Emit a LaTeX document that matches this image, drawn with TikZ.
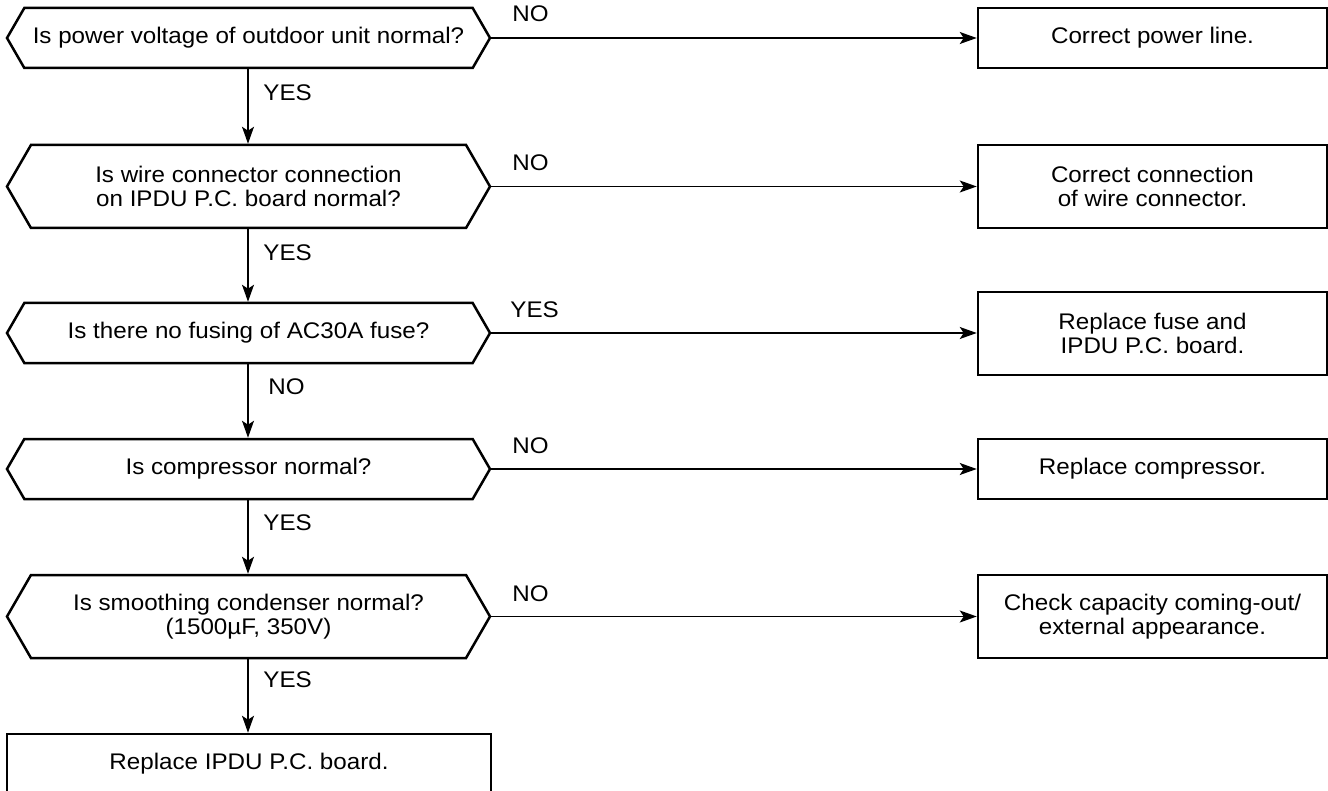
\documentclass[tikz,border=0pt]{standalone}
\usepackage{fontspec}
\setmainfont{Liberation Sans}[FakeStretch=1.07]
\usetikzlibrary{arrows.meta,shapes.symbols}

\begin{document}
\begin{tikzpicture}[x=0.5pt, y=-0.5pt, >={Stealth[length=8.5pt, width=6pt, inset=2pt]},
		font=\fontsize{11.3pt}{11.75pt}\selectfont,
		query/.style={shape=signal, signal to=west and east, signal pointer angle=120,
			draw, line width=1.25pt, minimum width=241.5pt, minimum height=30pt, inner sep=0pt, align=center},
		tall/.style={minimum height=41.5pt},
		remedy/.style={draw, line width=1.25pt, minimum width=174.5pt, minimum height=30pt, inner sep=0pt, align=center},
		link/.style={line width=0.7pt, ->},
		answer/.style={inner sep=0pt, anchor=west}]
	\clip (0,0) rectangle (1328,791);
	\useasboundingbox (0,0) rectangle (1328,791);
	% the checks, top to bottom
	\node[query] (q1) at (248.5,38) {Is power voltage of outdoor unit normal?};
	\node[query, tall] (q2) at (248.5,186.5) {Is wire connector connection\\on IPDU P.C. board normal?};
	\node[query] (q3) at (248.5,333) {Is there no fusing of AC30A fuse?};
	\node[query] (q4) at (248.5,469) {Is compressor normal?};
	\node[query, tall] (q5) at (248.5,616.5) {Is smoothing condenser normal?\\(1500µF, 350V)};
	\node[remedy, minimum width=242pt] (fin) at (249,764) {Replace IPDU P.C. board.};
	% what to do on the right
	\node[remedy] (r1) at (1152.5,38) {Correct power line.};
	\node[remedy, tall] (r2) at (1152.5,186.5) {Correct connection\\of wire connector.};
	\node[remedy, tall] (r3) at (1152.5,333.5) {Replace fuse and\\IPDU P.C. board.};
	\node[remedy] (r4) at (1152.5,469) {Replace compressor.};
	\node[remedy, tall] (r5) at (1152.5,616.5) {Check capacity coming-out/\\external appearance.};
	% down the trunk
	\draw[link] (q1.south -| 248,0) -- (q2.north -| 248,0);
	\draw[link] (q2.south -| 248,0) -- (q3.north -| 248,0);
	\draw[link] (q3.south -| 248,0) -- (q4.north -| 248,0);
	\draw[link] (q4.south -| 248,0) -- (q5.north -| 248,0);
	\draw[link] (q5.south -| 248,0) -- (fin.north -| 248,0);
	\node[answer] (y1) at (263,93) {YES};
	\node[answer] (y2) at (263,253) {YES};
	\node[answer] (n3) at (268,387) {NO};
	\node[answer] (y4) at (263,523) {YES};
	\node[answer] (y5) at (263,680) {YES};
	% out to the right
	\draw[link] (q1.east) -- (r1.west |- q1.east);
	\draw[link] (q2.east) -- (r2.west |- q2.east);
	\draw[link] (q3.east) -- (r3.west |- q3.east);
	\draw[link] (q4.east) -- (r4.west |- q4.east);
	\draw[link] (q5.east) -- (r5.west |- q5.east);
	\node[answer] (a1) at (512,14) {NO};
	\node[answer] (a2) at (512,163) {NO};
	\node[answer] (a3) at (510,310) {YES};
	\node[answer] (a4) at (512,446) {NO};
	\node[answer] (a5) at (512,594) {NO};
\end{tikzpicture}
\end{document}
